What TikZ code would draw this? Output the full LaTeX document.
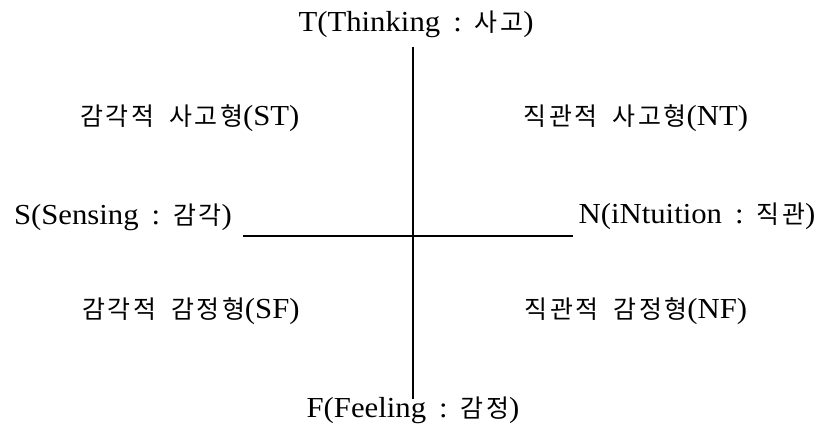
\documentclass[tikz,border=0pt]{standalone}
\usepackage{fontspec}
\setmainfont{Liberation Serif}[FakeStretch=1.06]
\newfontfamily\kr{Noto Sans CJK KR}[Scale=0.86,LetterSpace=10]
\newcommand{\krsp}{\hspace{0.6em}}
\newcommand{\colsep}{\hspace{0.45em}:\hspace{0.45em}}
\begin{document}
\begin{tikzpicture}[x=1pt,y=-1pt,
  lbl/.style={inner sep=0pt,anchor=base,font=\fontsize{29}{34}\selectfont},
  axis/.style={line width=1.3pt,black}]
\useasboundingbox (0,0) rectangle (819,425);
% axes endpoints
\coordinate (top) at (413,47);
\coordinate (bot) at (413,399);
\coordinate (lft) at (243,236);
\coordinate (rgt) at (573,236);
\draw[axis] (top) -- (bot);
\draw[axis] (lft) -- (rgt);
% labels
\node[lbl] (T) at (416,32) {T(Thinking\colsep{\kr 사고})};
\node[lbl] (S) at (123,224) {S(Sensing\colsep{\kr 감각})};
\node[lbl] (N) at (697,223) {N(iNtuition\colsep{\kr 직관})};
\node[lbl] (F) at (413,417) {F(Feeling\colsep{\kr 감정})};
\node[lbl] (ST) at (190,126) {{\kr 감각적\krsp 사고형}(ST)};
\node[lbl] (NT) at (636,126) {{\kr 직관적\krsp 사고형}(NT)};
\node[lbl] (SF) at (191,318) {{\kr 감각적\krsp 감정형}(SF)};
\node[lbl] (NF) at (636,318) {{\kr 직관적\krsp 감정형}(NF)};
\end{tikzpicture}
\end{document}
